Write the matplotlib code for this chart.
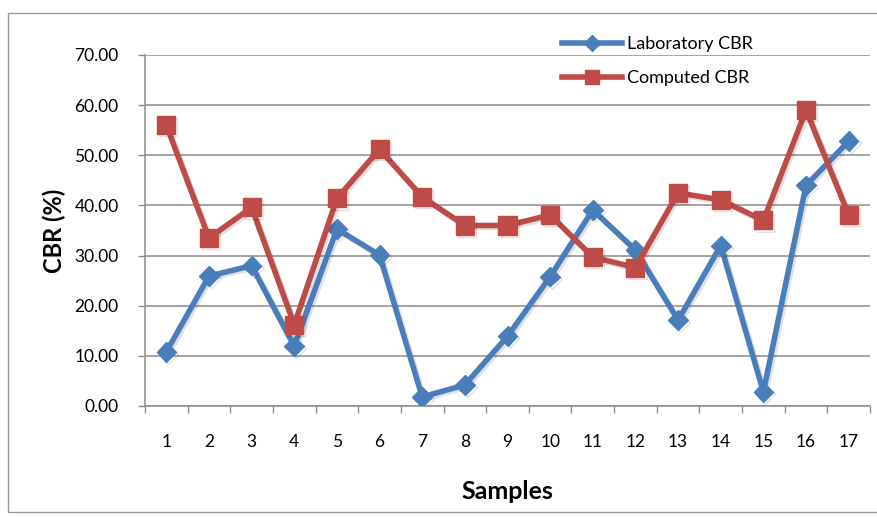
import matplotlib
matplotlib.use("Agg")
import matplotlib.pyplot as plt
from matplotlib.patches import Rectangle
from matplotlib.lines import Line2D
import matplotlib.patheffects as pe
import numpy as np

samples = [str(i) for i in range(1, 18)]
laboratory_cbr = [10.8, 25.9, 28.0, 11.9, 35.3, 30.1, 1.8, 4.2, 13.9, 25.8,
                  39.1, 31.1, 17.1, 32.0, 2.8, 44.0, 52.8]
computed_cbr = [56.0, 33.5, 39.6, 16.2, 41.4, 51.2, 41.7, 36.0, 36.0, 38.1,
                29.7, 27.6, 42.5, 41.1, 37.0, 59.0, 38.1]
y_ticks = [0, 10, 20, 30, 40, 50, 60, 70]

blue = "#4A7EBB"
red = "#BE4B48"
grid_col = "#8C8C8C"
font = ["Lato", "DejaVu Sans"]

fig = plt.figure(figsize=(8.77, 5.17), dpi=100)
fig.patch.set_facecolor("white")

# outer chart frame
fig.patches.append(Rectangle((8 / 877, 1 - 512 / 517), 1.0, (512 - 13) / 517,
                             transform=fig.transFigure, fill=False,
                             edgecolor="#9A9A9A", linewidth=1.0))

ax = fig.add_axes([145 / 877, 1 - 406 / 517, (870 - 145) / 877, (406 - 55) / 517])

x = np.arange(len(samples))
shadow_line = [pe.SimpleLineShadow(offset=(1.5, -1.5), alpha=0.12, shadow_color="black"), pe.Normal()]

ax.plot(x, laboratory_cbr, color=blue, linewidth=4.0, marker="D", markersize=10,
        markeredgecolor=blue, zorder=3, path_effects=shadow_line, label="Laboratory CBR")
ax.plot(x, computed_cbr, color=red, linewidth=4.0, marker="s", markersize=13,
        markeredgecolor=red, zorder=4, path_effects=shadow_line, label="Computed CBR")

ax.set_xlim(-0.5, len(samples) - 0.5)
ax.set_ylim(0, 70)
ax.set_yticks(y_ticks)
ax.set_yticklabels([f"{v:.2f}" for v in y_ticks], fontfamily=font, fontsize=12.5)
ax.set_xticks(x)
ax.set_xticklabels(samples, fontfamily=font, fontsize=12.5)
ax.set_xticks(np.arange(-0.5, len(samples)), minor=True)
ax.tick_params(axis="x", which="major", length=0, pad=20)
ax.tick_params(axis="x", which="minor", length=5, color=grid_col, width=1)
ax.tick_params(axis="y", length=5, color=grid_col, width=1, pad=14)

ax.yaxis.grid(True, color=grid_col, linewidth=1.1)
ax.set_axisbelow(True)
for side in ("top", "right"):
    ax.spines[side].set_visible(False)
for side in ("left", "bottom"):
    ax.spines[side].set_color(grid_col)
    ax.spines[side].set_linewidth(1.1)

ax.set_ylabel("CBR (%)", fontfamily=font, fontsize=17, fontweight="bold", labelpad=6)
ax.set_xlabel("Samples", fontfamily=font, fontsize=18, fontweight="bold", labelpad=22)

handles = [Line2D([], [], color=blue, linewidth=4.0, marker="D", markersize=8),
           Line2D([], [], color=red, linewidth=4.0, marker="s", markersize=10)]
leg = fig.legend(handles, ["Laboratory CBR", "Computed CBR"],
                 loc="upper left", bbox_to_anchor=(546 / 877, 1 - 20 / 517),
                 frameon=False, prop={"family": font, "size": 13},
                 handlelength=3.3, handletextpad=0.3, labelspacing=1.0)

fig.savefig("out.png", dpi=100, facecolor="white")
